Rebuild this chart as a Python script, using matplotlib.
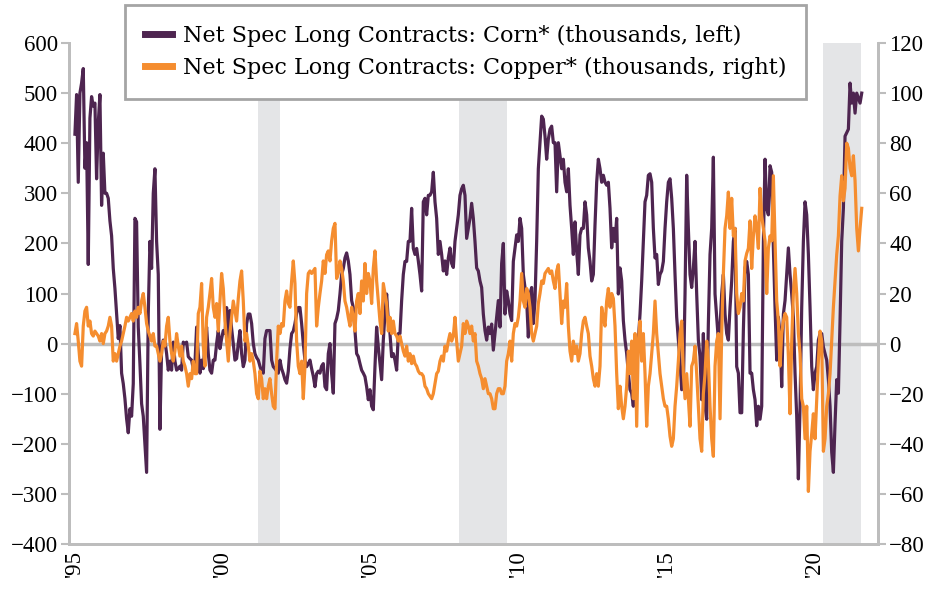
# Net speculative long contracts: corn vs copper
import numpy as np
import matplotlib
matplotlib.use("Agg")
import matplotlib.pyplot as plt
from matplotlib.lines import Line2D

plt.rcParams['font.family'] = ['Liberation Serif', 'DejaVu Serif']

# weekly-ish observations, Jan 1995 .. Jul 2021 (decimal years)
date_start, date_end = 1995.0, 2021.58

# corn, thousands of contracts (left axis)
corn = [
    418, 497, 322, 500, 520, 549, 350, 401, 158,
    450, 493, 474, 480, 329, 440, 497, 276, 380,
    300, 300, 290, 245, 215, 150, 110, 60, 10,
    36, -59, -80, -110, -150, -178, -130, -145, -80,
    250, 243, 33, -40, -120, -145, -200, -257, 60,
    204, 150, 300, 349, 204, 138, -171, -10, 7,
    5, -20, -53, -35, -53, 3, -35, -53, -50,
    -45, -53, 3, 0, 3, -26, -30, -33, -50,
    -40,
    # 1999 - 2003
    33, -20, -59, -33, -50, 0, 33, -20, -53,
    -59, -33, -33, 0, 26, -10, 10, 26, 20,
    72, 7, 66, 30, 0, -33, -30, 0, 26,
    -20, -46, -33, 39, 59, 59, 40, 0, -20,
    -28, -33, -45, -55, -59, 10, 26, 26, 26,
    -33, -46, -50, -55, -59, -33, -50, -60, -72,
    -79, -55, -10, 20, 25, 40, 60, 72, 72,
    40, 0, -33, -46, -40, -33, -50, -65, -86,
    -60, -55, -59, -45, -40, -86, -92, -20, 0,
    # 2003 - 2008
    -60, -99, 40, 50, 66, 99, 138, 150, 171,
    181, 165, 138, 86, 72, 26, -20, -26, -40,
    -53, -59, -66, -86, -112, -92, -125, -132, -46,
    33, -7, -40, -72, 7, 59, 99, 46, 20,
    -26, -20, -33, -53, 20, 20, 86, 138, 164,
    164, 204, 204, 270, 190, 178, 190, 165, 138,
    105, 283, 290, 257, 296, 296, 303, 342, 283,
    250, 178, 204, 178, 145, 165, 138, 171, 191,
    160, 152, 204, 230, 257, 296, 309, 316, 296,
    # 2008 - 2012
    210, 230, 250, 280, 250, 204, 151, 145, 125,
    112, 59, 26, 7, 33, 20, 39, -13, 20,
    53, 86, 33, 160, 200, 59, 105, 86, 59,
    46, 164, 191, 217, 204, 250, 230, 138, 112,
    86, 13, 99, 112, 40, 86, 204, 349, 401,
    454, 448, 414, 368, 408, 428, 434, 401, 401,
    303, 401, 375, 349, 368, 322, 303, 349, 276,
    230, 178, 243, 184, 138, 217, 230, 230, 283,
    257, 191, 164, 125, 138, 237, 322, 368, 349,
    # 2012 - 2017
    322, 336, 322, 316, 322, 270, 191, 230, 204,
    250, 99, 151, 125, 46, 7, -20, -59, -92,
    -99, -125, -59, -26, 7, 59, 125, 204, 283,
    296, 336, 339, 322, 230, 171, 178, 118, 138,
    145, 164, 230, 283, 322, 329, 290, 230, 138,
    53, 7, -33, -92, -86, 99, 336, 230, 138,
    112, 151, 204, 99, 7, -26, -112, 20, -125,
    -151, 40, 178, 230, 372, 99, 53, 7, 33,
    99, 138, 59, 20, 7, 72, 125, 204, 230,
    # 2017 - 2021
    -46, -59, -138, -138, 26, 151, 164, 138, -59,
    -59, -92, -112, -164, -125, -151, -125, 202, 368,
    270, 257, 355, 342, 191, 72, -33, 53, 20,
    -86, 59, 86, 138, 191, 138, 99, 53, -59,
    -145, -270, -125, 72, 204, 283, 257, 178, 72,
    -46, -92, -59, -46, 7, 20, 20, -7, -20,
    -33, -72, -125, -217, -257, -158, -72, -99, 46,
    204, 270, 414, 421, 428, 520, 480, 500, 460,
    500, 490, 480, 500,
]

# copper, thousands of contracts (right axis)
copper = [
    4, 8, 1, -7, -9, 7, 13, 14.5, 7,
    9, 4, 3, 5, 4, 3, 1, 4, 0,
    4, 5, 7, 10.5, 7, -7, -4, -7, -4,
    -1, 1, 4, 7, 10.5, 9, 10.5, 12, 9,
    13, 10.5, 14.5, 12, 17, 20, 14.5, 8, 5,
    3, 1, 4, -1, -1, -4, -7, -4, 1,
    -1, 7, 10.5, 1, -4, -7, -3, 4, -1,
    -5, -1, -7, -9, -12, -17, -12, -14, -7,
    -12,
    # 1999 - 2003
    -12, 12, 14.5, 24, -1, -9, 10.5, 14.5, 20,
    26, 14.5, 10.5, 16, 5, 17, 28, 22, 9,
    1, -7, 4, 10.5, 17, 13, 9, 18, 25,
    29, 17, 1, 4, -1, -7, -4, -7, -12,
    -20, -22, -11, -14, -22, -18, -22, -17, -14,
    -20, -25, -26, -7, 7, 4, 8, 7, 17,
    21, 16, 14.5, 25, 33, 24, 1, -9, -12,
    -7, -22, -9, 20, 28, 29, 28, 29, 30,
    7, 14.5, 20, 25, 33, 28, 35.5, 37, 33,
    # 2003 - 2008
    41, 46, 48, 26, 28, 33, 30, 25, 17,
    14.5, 10.5, 7, 14.5, 10.5, 5, 17, 20, 12,
    25, 17, 32, 20, 28, 25, 16, 30, 37,
    25, 17, 9, 4, 24, 20, 16, 5, 10.5,
    4, 9, 4, 3, 1, 3, 0, -3, -5,
    -1, -7, -4, -8, -5, -8, -9, -11, -12,
    -12, -13, -17, -18, -20, -21, -22, -20, -16,
    -12, -11, -7, -5, -7, -1, -3, 1, 4,
    1, 3, 10.5, 1, -7, -4, -1, 8, 4,
    # 2008 - 2012
    9, 7, 4, 7, 1, 4, -7, -9, -12,
    -14, -18, -14, -17, -20, -20, -22, -26, -26,
    -20, -18, -18, -20, -20, -17, -7, -4, 1,
    -7, 4, 8, 7, 10.5, 17, 28, 17, 14.5,
    22, 20, 14.5, 4, 1, 4, 7, 16, 20,
    25, 24, 28, 29, 30, 28, 29, 25, 22,
    29, 31.5, 20, 8, 17, 14.5, 24, 7, -3,
    -7, 1, -4, -1, -7, -4, 4, 9, 10.5,
    7, 4, -5, -9, -14, -17, -12, -17, -9,
    # 2012 - 2017
    14.5, 10.5, 7, 17, 22, 14.5, 20, 18, 7,
    -12, -26, -17, -25, -30, -25, -17, -3, -12,
    1, -22, 4, -33, 1, 9, -7, 4, -12,
    -33, -17, -12, -4, 4, 17, 4, -4, -12,
    -17, -22, -25, -25, -30, -37, -41, -38, -25,
    -17, -7, 4, 9, -12, -22, -12, -22, -33,
    -9, -7, -1, -12, -25, -38, -43, -20, -12,
    1, -7, -25, -38, -45, -9, 1, 4, -30,
    4, 28, 46, 51, 60.5, 46, 58, 43, 46,
    # 2017 - 2021
    20, 12, 14.5, 20, 17, 33, 36, 38, 49,
    30, 43, 51, 46, 38, 62, 51, 46, 41,
    20, 38, 43, 41, 67, 41, 17, 9, -9,
    4, 9, 12, 10.5, -5, -28, 1, 20, 30,
    20, 4, -4, -22, -25, -38, -25, -59, -43,
    -36, -28, -38, -22, -7, 5, 1, -43, -38,
    -25, -20, -12, 1, 14.5, 25, 35.5, 43, 59,
    67, 57, 62, 80, 78, 70, 67, 75, 65,
    46, 37, 46, 54,
]

dates = np.linspace(date_start, date_end, len(corn))

# recession shading (start, end)
recessions = [(2001.17, 2001.94), (2007.97, 2009.6), (2020.28, 2021.54)]

year_ticks = [1995, 2000, 2005, 2010, 2015, 2020]
year_labels = ["'95", "'00", "'05", "'10", "'15", "'20"]

purple = '#4e2550'
orange = '#f58d2f'
gray = '#bdbdbd'

fig = plt.figure(figsize=(9.47, 5.89), dpi=100)
ax = fig.add_axes([69 / 947, 1 - 544 / 589, (878 - 69) / 947, (544 - 43) / 589])
ax2 = ax.twinx()

for a, b in recessions:
    ax.axvspan(a, b, color='#e4e5e7', lw=0, zorder=0)
ax.axhline(0, color=gray, lw=2.5, zorder=1)

ax.plot(dates, corn, color=purple, lw=2.3, zorder=2)
ax2.plot(dates, copper, color=orange, lw=2.3, zorder=2)

ax.set_xlim(1994.8, 2022.13)
ax.set_ylim(-400, 600)
ax2.set_ylim(-80, 120)
ax.set_yticks(range(-400, 601, 100))
ax2.set_yticks(range(-80, 121, 20))
ax.set_xticks(year_ticks)
ax.set_xticklabels(year_labels, rotation=90)

for a in (ax, ax2):
    a.spines['top'].set_visible(False)
    for side in ('left', 'right', 'bottom'):
        a.spines[side].set_color(gray)
        a.spines[side].set_linewidth(2)
    a.tick_params(axis='y', colors=gray, labelcolor='black', length=6, width=1.5,
                  labelsize=16.5, pad=2)
ax.tick_params(axis='x', length=0, labelsize=16.5, pad=5)

handles = [Line2D([], [], color=purple, lw=5),
           Line2D([], [], color=orange, lw=5)]
labels = ['Net Spec Long Contracts: Corn* (thousands, left)',
          'Net Spec Long Contracts: Copper* (thousands, right)']
leg = fig.legend(handles, labels, loc='upper left',
                 bbox_to_anchor=(125 / 947, 1 - 5 / 589),
                 prop={'family': 'DejaVu Serif', 'size': 16},
                 frameon=True, fancybox=False, borderaxespad=0,
                 handlelength=1.2, handletextpad=0.5, labelspacing=0.45,
                 borderpad=0.9)
leg.get_frame().set_edgecolor('#a5a5a5')
leg.get_frame().set_linewidth(2)
leg.get_frame().set_alpha(1)

fig.savefig('out.png', dpi=100)
